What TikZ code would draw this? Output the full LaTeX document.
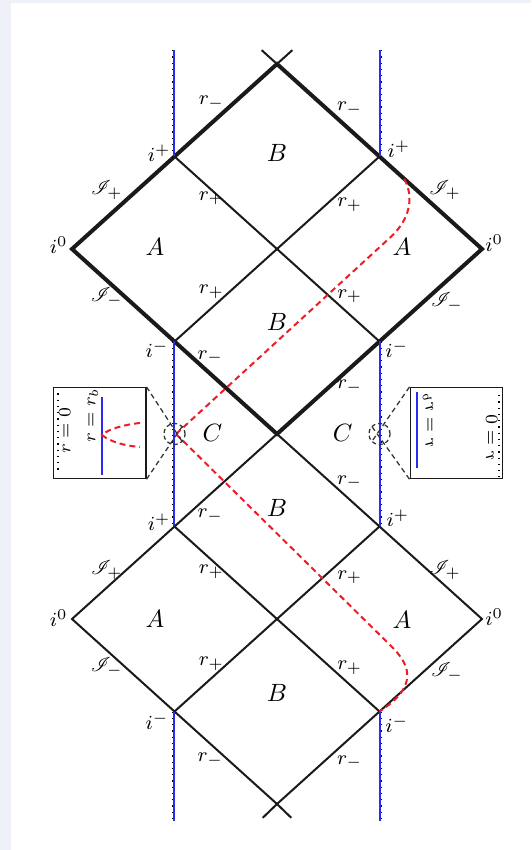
\documentclass[tikz,border=0pt]{standalone}
\usepackage{amsmath,amssymb,mathrsfs}
\usepackage{graphicx}
\usepackage{tikz}
\usetikzlibrary{arrows.meta,calc}
\definecolor{pageBg}{HTML}{EEF2F8}
\definecolor{rbBlue}{HTML}{2A2AF5}
\definecolor{geoRed}{HTML}{EE1C25}
\definecolor{inkBlk}{HTML}{1A1A1A}
\tikzset{
  hor/.style     = {draw=inkBlk, line width=0.8pt},
  horthk/.style  = {draw=inkBlk, line width=1.6pt, line join=miter},
  rbline/.style  = {draw=rbBlue, line width=0.8pt},
  sing/.style    = {draw=black, dotted, line width=0.5pt},
  geo/.style     = {draw=geoRed, line width=0.8pt, dash pattern=on 2.4pt off 1.6pt},
  zoomc/.style   = {circle, draw=black!80, dash pattern=on 1.6pt off 1.2pt,
                    line width=0.5pt, minimum size=8.5pt, inner sep=0pt},
  guide/.style   = {draw=black!80, dash pattern=on 2pt off 1.4pt, line width=0.5pt},
  inset/.style   = {draw=inkBlk, line width=0.6pt, minimum width=36.9pt,
                    minimum height=36.3pt, inner sep=0pt},
  lab/.style     = {font=\footnotesize, inner sep=0.5pt},
  reg/.style     = {font=\normalsize, inner sep=0pt},
  ilab/.style    = {font=\scriptsize, rotate=90, inner sep=0pt},
}

\begin{document}
\begin{tikzpicture}[x=41pt, y=37pt]
  \useasboundingbox (-110.8pt,-166.4pt) rectangle (101.6pt,173.6pt);
  \fill[pageBg] (-110.8pt,-166.4pt) rectangle (101.6pt,173.6pt);
  \fill[white] (-106.4pt,-166.4pt) rectangle (101.6pt,172.4pt);

  % corners of the two blocks
  \coordinate (ut)   at (0,4);
  \coordinate (uipl) at (-1,3);   \coordinate (uipr) at (1,3);
  \coordinate (ui0l) at (-2,2);   \coordinate (ui0r) at (2,2);
  \coordinate (uiml) at (-1,1);   \coordinate (uimr) at (1,1);
  \coordinate (mid)  at (0,0);
  \coordinate (lipl) at (-1,-1);  \coordinate (lipr) at (1,-1);
  \coordinate (li0l) at (-2,-2);  \coordinate (li0r) at (2,-2);
  \coordinate (liml) at (-1,-3);  \coordinate (limr) at (1,-3);
  \coordinate (lb)   at (0,-4);

  % horizons
  \draw[horthk] (ut) -- (ui0l) -- (mid) -- (ui0r) -- cycle;
  \draw[hor] (uipl) -- (uimr) (uipr) -- (uiml);
  \draw[hor] (mid) -- (li0l) -- (lb) -- (li0r) -- cycle;
  \draw[hor] (lipl) -- (limr) (lipr) -- (liml);
  \draw[hor] (ut) -- ++(0.15,0.15) (ut) -- ++(-0.15,0.15);
  \draw[hor] (lb) -- ++(0.14,-0.15) (lb) -- ++(-0.14,-0.15);

  % r = 0 and r = r_b
  \foreach \s in {-1,1}{
    \foreach \ya/\yb in {4.15/3, 1/-1, -3/-4.18}{
      \draw[sing] ([xshift=\s*0.8pt]\s,\ya) -- ([xshift=\s*0.8pt]\s,\yb);
      \draw[rbline] (\s,\ya) -- (\s,\yb);}}

  % geodesic
  \draw[geo] (-0.985,0) -- (1.1,2.12) .. controls (1.3,2.32) and (1.34,2.56) .. (1.24,2.76);
  \draw[geo] (-0.985,0) -- (1.12,-2.3) .. controls (1.32,-2.52) and (1.36,-2.74) .. (1,-3);

  % labels
  \foreach \x/\y [count=\k] in {-1.19/2.02, 1.22/2.02, -1.19/-2.0, 1.22/-2.01}
    \node[reg] (regA\k) at (\x,\y) {$A$};
  \foreach \x/\y [count=\k] in {0/3.04, 0/1.21, 0/-0.8, 0/-2.8}
    \node[reg] (regB\k) at (\x,\y) {$B$};
  \foreach \x/\y [count=\k] in {-0.63/0.01, 0.64/0.01}
    \node[reg] (regC\k) at (\x,\y) {$C$};
  \foreach \x/\y [count=\k] in {-0.64/3.58, 0.71/3.52, -0.65/0.83, 0.71/0.51,
                                0.71/-0.52, -0.65/-0.88, -0.65/-3.52, 0.71/-3.55}
    \node[lab] (rm\k) at (\x,\y) {$r_-$};
  \foreach \x/\y [count=\k] in {-0.64/2.55, 0.71/2.48, -0.64/1.54, 0.71/1.49,
                                -0.64/-1.49, 0.71/-1.55, -0.64/-2.48, 0.71/-2.53}
    \node[lab] (rp\k) at (\x,\y) {$r_+$};
  \foreach \x/\y [count=\k] in {-1.15/3.04, 1.19/3.08, -1.15/-0.95, 1.18/-0.91}
    \node[lab] (ip\k) at (\x,\y) {$i^+$};
  \foreach \x/\y [count=\k] in {-1.17/0.92, 1.17/0.92, -1.17/-3.11, 1.17/-3.14}
    \node[lab] (im\k) at (\x,\y) {$i^-$};
  \foreach \x/\y [count=\k] in {-2.13/2.04, 2.12/2.06, -2.13/-1.99, 2.12/-1.98}
    \node[lab] (izero\k) at (\x,\y) {$i^0$};
  \foreach \x/\y [count=\k] in {-1.66/2.64, 1.64/2.64, -1.66/-1.47, 1.64/-1.47}
    \node[lab] (scrp\k) at (\x,\y) {$\mathscr{I}_+$};
  \foreach \x/\y [count=\k] in {-1.66/1.48, 1.66/1.43, -1.66/-2.52, 1.66/-2.57}
    \node[lab] (scrm\k) at (\x,\y) {$\mathscr{I}_-$};

  % zoomed insets
  \node[zoomc] (lzoom) at (-1,0) {};
  \node[zoomc] (rzoom) at (1,0) {};
  \node[inset] (lbox) at (-1.73,0.01) {};
  \node[inset] (rbox) at (1.75,0.01) {};
  \draw[guide] (lbox.north east) -- (lzoom.south east);
  \draw[guide] (lbox.south east) -- (lzoom.north east);
  \draw[guide] (rbox.north west) -- (rzoom.south west);
  \draw[guide] (rbox.south west) -- (rzoom.north west);

  \draw[sing] (-2.137,0.44) -- (-2.137,-0.39);
  \draw[rbline] (-1.707,0.4) -- (-1.707,-0.443);
  \node[ilab] (lrzero) at (-2.07,0.04) {$r=0$};
  \node[ilab] (lrb) at (-1.795,0.2) {$r=r_b$};
  \draw[geo] (-1.337,0.12) .. controls (-1.48,0.1) and (-1.64,0.06) .. (-1.707,-0.01)
             .. controls (-1.64,-0.08) and (-1.48,-0.13) .. (-1.337,-0.14);

  \draw[rbline] (1.366,0.454) -- (1.366,-0.368);
  \draw[sing] (2.166,0.42) -- (2.166,-0.465);
  \node[ilab] (rrb) at (1.473,0.15) {\scalebox{1}[-1]{$r=r_b$}};
  \node[ilab] (rrzero) at (2.095,-0.04) {\scalebox{1}[-1]{$r=0$}};
\end{tikzpicture}
\end{document}
